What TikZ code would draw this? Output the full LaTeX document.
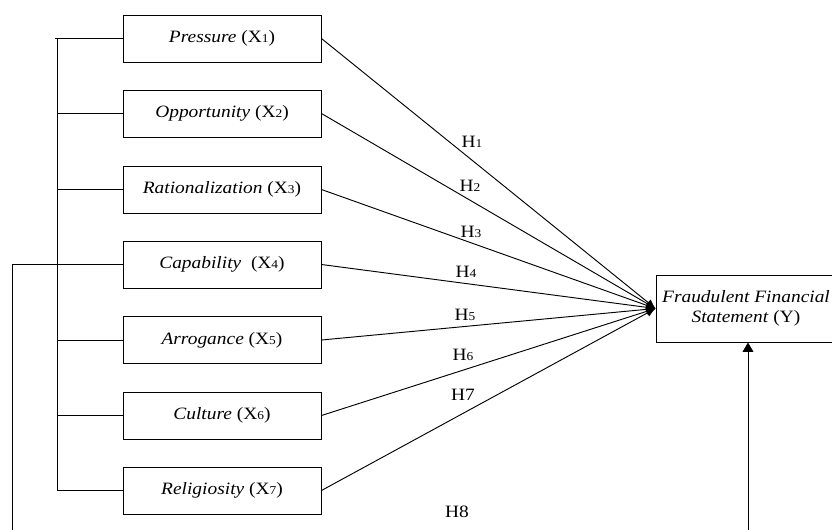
\documentclass[tikz,border=0pt]{standalone}
\usepackage{fontspec}
\setmainfont[FakeStretch=1.12]{Liberation Serif}
\usetikzlibrary{arrows.meta}
\newcommand\smalldigit[1]{{\fontsize{9}{10}\selectfont #1}}
\begin{document}
\begin{tikzpicture}[x=0.75pt,y=-0.75pt,
  varbox/.style={draw, line width=0.7pt, minimum width=148.5pt, minimum height=35.25pt, inner sep=0pt, font=\fontsize{13}{15}\selectfont},
  link/.style={line width=0.7pt},
  hyp/.style={link, -{Latex[length=7pt,width=6pt]}},
  bigtip/.style={link, -{Triangle[length=7pt,width=8pt]}},
  hlab/.style={font=\fontsize{13}{15}\selectfont, inner sep=0pt}]
\useasboundingbox (0,0) rectangle (832,529);
\clip (0,0) rectangle (832,529);
% variable boxes
\node[varbox] (x1) at (222,38.5) {\textit{Pressure} (X\smalldigit{1})};
\node[varbox] (x2) at (222,113.5) {\textit{Opportunity} (X\smalldigit{2})};
\node[varbox] (x3) at (222,189.5) {\textit{Rationalization} (X\smalldigit{3})};
\node[varbox] (x4) at (222,264.5) {\textit{Capability}\ \ (X\smalldigit{4})};
\node[varbox] (x5) at (222,340) {\textit{Arrogance} (X\smalldigit{5})};
\node[varbox] (x6) at (222,415.5) {\textit{Culture} (X\smalldigit{6})};
\node[varbox] (x7) at (222,490.5) {\textit{Religiosity} (X\smalldigit{7})};
\node[varbox, minimum width=135pt, minimum height=50.25pt, align=center] (y) at (746,308.5)
  {\textit{Fraudulent Financial}\\\textit{Statement} (Y)};
% left bus
\coordinate (b1) at (55,38.5);
\coordinate (b2) at (57,113.5);
\coordinate (b3) at (57,189.5);
\coordinate (b5) at (57,340);
\coordinate (b6) at (57,415.5);
\coordinate (b7) at (57,490.5);
\draw[link] (57,38.5) -- (b7);
\draw[link] (b1) -- (x1.west);
\draw[link] (b2) -- (x2.west);
\draw[link] (b3) -- (x3.west);
\draw[link] (b5) -- (x5.west);
\draw[link] (b6) -- (x6.west);
\draw[link] (b7) -- (x7.west);
% outer path H8
\coordinate (o2) at (12,545);
\coordinate (o3) at (748,545);
\draw[bigtip] (x4.west) -| (o2) -- (o3) -- (y.south -| o3);
% hypotheses
\draw[hyp] (x1.east) -- (y.west);
\draw[hyp] (x2.east) -- (y.west);
\draw[hyp] (x3.east) -- (y.west);
\draw[hyp] (x4.east) -- (y.west);
\draw[hyp] (x5.east) -- (y.west);
\draw[hyp] (x6.east) -- (y.west);
\draw[hyp] (x7.east) -- (y.west);
% labels
\node[hlab] (h1) at (472,142) {H\smalldigit{1}};
\node[hlab] (h2) at (470,186) {H\smalldigit{2}};
\node[hlab] (h3) at (471,232) {H\smalldigit{3}};
\node[hlab] (h4) at (466,272) {H\smalldigit{4}};
\node[hlab] (h5) at (465,315) {H\smalldigit{5}};
\node[hlab] (h6) at (463,355) {H\smalldigit{6}};
\node[hlab] (h7) at (463,395) {H7};
\node[hlab] (h8) at (457,512) {H8};
\end{tikzpicture}
\end{document}
